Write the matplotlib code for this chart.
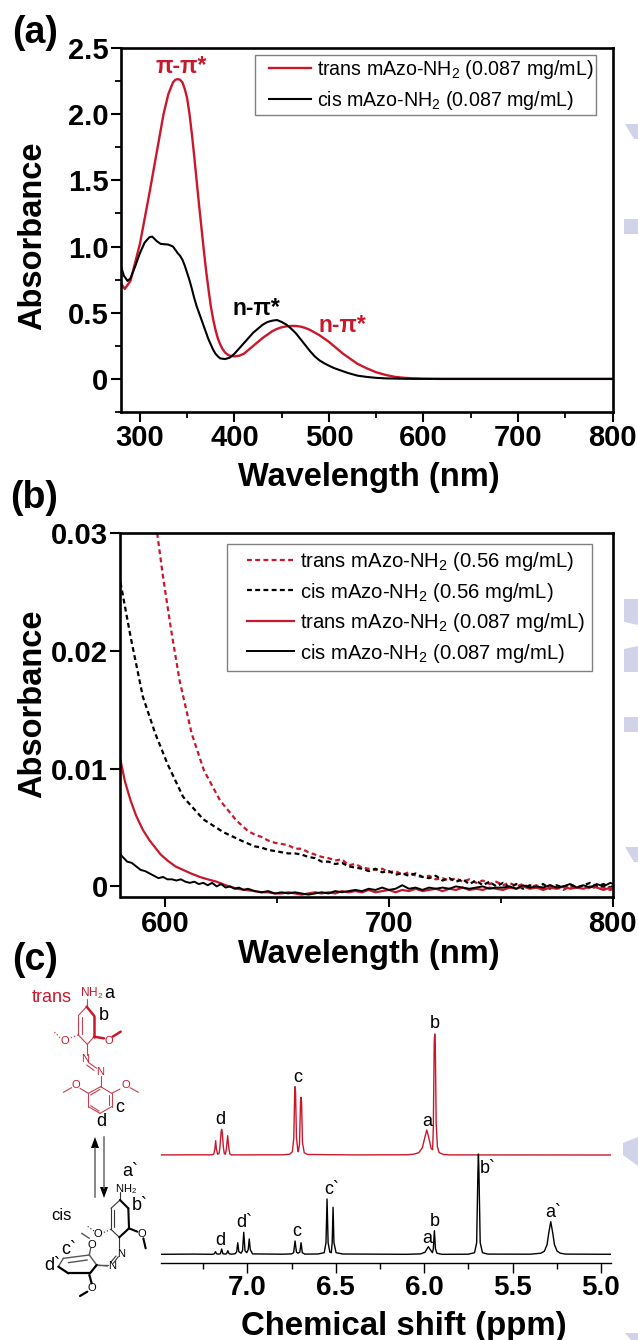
import numpy as np
import matplotlib
matplotlib.use('Agg')
import matplotlib.pyplot as plt
from matplotlib.patches import Polygon
from matplotlib.lines import Line2D
from matplotlib.legend_handler import HandlerLine2D
from matplotlib.ticker import MultipleLocator

plt.rcParams['font.family'] = ['Liberation Sans', 'DejaVu Sans']
plt.rcParams['mathtext.fontset'] = 'custom'
plt.rcParams['mathtext.rm'] = 'Liberation Sans'
plt.rcParams['mathtext.default'] = 'regular'

RED = '#c9182c'
W, H = 638, 1340

# ---------- panel a
wl_a_trans = [280, 284, 290, 300, 310, 320, 325, 330, 335, 337.5, 340, 342.5, 345, 347.5, 350, 352.5, 355, 357.5, 360,
              362.5, 365, 367.5, 370, 372.5, 375, 377.5, 380, 382.5, 385, 387.5, 390, 392.5, 395, 400, 405, 410, 415,
              420, 425, 430, 435, 440, 445, 450, 455, 460, 465, 470, 475, 480, 485, 490, 495, 500, 505, 510, 515, 520,
              525, 530, 540, 550, 560, 570, 580, 590, 600, 620, 800]
abs_a_trans = [0.72, 0.68, 0.74, 1.02, 1.40, 1.80, 2.00, 2.15, 2.24, 2.26, 2.265, 2.26, 2.24, 2.19, 2.12, 2.00, 1.85,
               1.68, 1.50, 1.32, 1.15, 0.98, 0.82, 0.68, 0.55, 0.45, 0.37, 0.305, 0.26, 0.225, 0.20, 0.185, 0.175,
               0.17, 0.175, 0.19, 0.22, 0.25, 0.28, 0.31, 0.335, 0.36, 0.378, 0.39, 0.397, 0.40, 0.40, 0.395, 0.385,
               0.37, 0.35, 0.33, 0.305, 0.28, 0.25, 0.22, 0.19, 0.165, 0.14, 0.115, 0.08, 0.05, 0.03, 0.015, 0.008,
               0.004, 0.002, 0, 0]
wl_a_cis = [280, 283, 287, 290, 295, 300, 305, 310, 313, 318, 322, 330, 335, 340, 342.5, 345, 347.5, 350, 352.5, 355,
            357.5, 360, 362.5, 365, 367.5, 370, 372.5, 375, 377.5, 380, 382.5, 385, 390, 395, 400, 405, 410, 415, 420,
            425, 430, 435, 440, 445, 450, 455, 460, 465, 470, 475, 480, 485, 490, 495, 500, 505, 510, 520, 530, 540,
            550, 560, 580, 600, 800]
abs_a_cis = [0.85, 0.78, 0.74, 0.76, 0.85, 0.95, 1.03, 1.07, 1.075, 1.04, 1.02, 1.015, 1.0, 0.95, 0.93, 0.90, 0.855,
             0.80, 0.745, 0.68, 0.61, 0.55, 0.50, 0.45, 0.40, 0.35, 0.30, 0.26, 0.22, 0.19, 0.17, 0.155, 0.15, 0.16,
             0.19, 0.23, 0.27, 0.31, 0.35, 0.38, 0.41, 0.43, 0.44, 0.445, 0.43, 0.41, 0.38, 0.345, 0.30, 0.255, 0.21,
             0.17, 0.14, 0.118, 0.10, 0.083, 0.07, 0.045, 0.025, 0.015, 0.008, 0.004, 0.001, 0, 0]

# ---------- panel b (tails in 1e-4 absorbance, 3 nm steps from 640 nm)
wl_b_tail = np.arange(640, 803, 3)

wl_b_td = [596.4, 599, 602.7, 606.4, 611.8, 617.3, 624.5, 631.8, 637]
abs_b_td = [0.03, 0.0263, 0.0217, 0.0175, 0.013, 0.00985, 0.0073, 0.0056, 0.0047]
tail_td = [44, 42, 39, 37, 36, 35, 32, 32, 29, 27, 25, 24, 22, 23, 18, 19, 16, 15, 14, 15, 12, 13, 10, 12, 9, 8, 9, 6,
           7, 5, 7, 4, 6, 3, 5, 2, 4, 1, 3, 0, 2, -1, 1, -2, 1, -1, -3, 0, -2, 1, -2, 0, -1, -3, -1]

wl_b_cd = [580, 584.5, 590, 595.5, 601, 608, 617, 626, 635]
abs_b_cd = [0.0258, 0.0212, 0.0161, 0.013, 0.0104, 0.0076, 0.0057, 0.0046, 0.0038]
tail_cd = [34, 33, 31, 30, 29, 28, 28, 27, 25, 24, 21, 21, 19, 20, 17, 16, 15, 13, 15, 12, 13, 10, 11, 9, 11, 8, 7, 9,
           5, 7, 4, 6, 2, 5, 1, 4, 0, 3, -1, 2, -2, 1, -1, 2, -2, 1, -1, 2, -1, 1, 3, 0, 2, -1, 3]

wl_b_ts = [580, 582, 584.5, 587, 590, 593, 595.5, 598, 601, 604.5, 608, 611.5, 615.5, 619, 623, 627, 632]
abs_b_ts = [0.0107, 0.0089, 0.0073, 0.0060, 0.0048, 0.0039, 0.0033, 0.0027, 0.0022, 0.0017, 0.0014, 0.0011, 0.0008,
            0.0006, 0.0004, 0.0001, -0.0002]
tail_ts = [-4, -5, -5, -6, -6, -5, -6, -7, -6, -5, -6, -5, -6, -4, -5, -4, -5, -3, -5, -4, -3, -5, -3, -4, -2, -4, -3,
           -2, -4, -2, -3, -1, -3, -2, -3, -1, -2, -3, -1, -2, 0, -2, -1, -3, -1, -2, 0, -2, -1, -2, 0, -1, -3, -1, -4]

wl_b_cs = [580, 581, 583, 585, 587, 589, 591, 593, 595, 597, 599, 601, 603, 605, 607, 609, 611, 613, 615, 617, 619,
           621, 623, 625, 627, 629, 631, 633, 635, 637]
abs_b_cs = [27, 25, 21, 20, 17, 14, 13, 11, 9, 7, 8, 6, 6, 5, 6, 4, 3, 4, 2, 3, 1, 3, 0, 2, -1, 0, -2, -1, -3, -2]
tail_cs = [-4, -5, -4, -6, -5, -6, -5, -6, -7, -6, -5, -6, -4, -5, -4, -3, -4, -2, -3, -1, -3, -2, 1, -2, -1, -3, -1,
           -2, -1, -2, 0, -1, -2, -1, 0, -2, -1, -1, 0, -2, 1, -1, 0, -1, 1, -1, 0, 2, -1, 1, -1, 2, 0, 3, 1]

# ---------- panel c (intensity = pixels above the axis line)
ppm_trans = [7.488, 7.20, 7.19, 7.183, 7.179, 7.175, 7.168, 7.16, 7.155, 7.148, 7.145, 7.142, 7.135, 7.13, 7.124,
             7.118, 7.111, 7.104, 7.098, 7.09, 6.80, 6.76, 6.745, 6.737, 6.732, 6.73, 6.727, 6.722, 6.714, 6.712,
             6.705, 6.699, 6.696, 6.693, 6.688, 6.678, 6.66, 6.40, 6.10, 6.06, 6.03, 6.01, 5.995, 5.985, 5.975, 5.96,
             5.952, 5.948, 5.943, 5.94, 5.937, 5.932, 5.925, 5.915, 5.89, 5.85, 4.945]
int_trans = [107.8, 107.9, 108.5, 114, 122, 114, 108.5, 109, 115, 131, 133.4, 131, 115, 109, 108.5, 114, 127, 114,
             108.5, 107.8, 107.9, 108.5, 111, 125, 170, 176, 170, 125, 112, 111, 118, 160, 165.4, 160, 120, 110,
             108.2, 107.8, 107.9, 108.5, 110, 115, 126, 132.7, 126, 114, 113, 135, 220, 228.7, 220, 140, 116, 110,
             108.2, 107.8, 107.7]
ppm_cis = [7.488, 7.30, 7.20, 7.187, 7.18, 7.173, 7.16, 7.152, 7.145, 7.138, 7.125, 7.117, 7.11, 7.103, 7.09, 7.068,
           7.06, 7.054, 7.048, 7.035, 7.027, 7.02, 7.013, 7.003, 6.995, 6.989, 6.983, 6.97, 6.80, 6.75, 6.738, 6.73,
           6.722, 6.713, 6.703, 6.696, 6.689, 6.675, 6.60, 6.565, 6.555, 6.549, 6.543, 6.533, 6.525, 6.52, 6.515,
           6.51, 6.498, 6.46, 6.10, 6.02, 5.995, 5.985, 5.976, 5.965, 5.953, 5.948, 5.942, 5.936, 5.928, 5.90, 5.75,
           5.715, 5.703, 5.696, 5.693, 5.69, 5.683, 5.67, 5.64, 5.40, 5.34, 5.32, 5.305, 5.295, 5.284, 5.273, 5.263,
           5.248, 5.23, 5.20, 4.945]
int_cis = [8.4, 8.6, 8.4, 8.8, 11, 8.8, 8.6, 9, 13.7, 9, 8.6, 9, 12, 9, 8.5, 9, 11, 20, 11, 9.5, 12, 30.4, 12, 10,
           13, 23.7, 13, 8.8, 8.5, 8.8, 10, 21.7, 10.5, 9.5, 10.5, 20, 10, 8.6, 8.7, 10, 20, 63.7, 20, 10.5, 10, 20,
           55.4, 20, 10, 8.7, 8.4, 8.8, 10.5, 13.5, 16, 13, 10, 14, 32, 14, 9.5, 8.4, 8.5, 10, 20, 90, 108.7, 90, 20,
           10, 8.6, 8.5, 9.5, 11.5, 18, 30, 41, 30, 18, 11.5, 9.5, 8.6, 8.4]

x_ticks_a = [300, 400, 500, 600, 700, 800]
y_ticks_a = [0, 0.5, 1.0, 1.5, 2.0, 2.5]
y_labels_a = ['0', '0.5', '1.0', '1.5', '2.0', '2.5']
x_ticks_b = [600, 700, 800]
y_ticks_b = [0, 0.01, 0.02, 0.03]
y_labels_b = ['0', '0.01', '0.02', '0.03']
x_ticks_c = [5.0, 5.5, 6.0, 6.5, 7.0]
x_labels_c = ['5.0', '5.5', '6.0', '6.5', '7.0']


def axes_px(left, top, right, bottom, **kw):
    return fig.add_axes([left / W, 1 - bottom / H, (right - left) / W, (bottom - top) / H], **kw)


def style(ax, xt, yt=None, yl=None):
    ax.set_xticks(xt)
    ax.tick_params(axis='both', which='major', length=7, width=1.5, pad=2, labelsize=21)
    ax.tick_params(axis='both', which='minor', length=4, width=1.3)
    for lab in ax.get_xticklabels() + ax.get_yticklabels():
        lab.set_fontweight('bold')
    if yt is not None:
        ax.set_yticks(yt)
        ax.set_yticklabels(yl, fontweight='bold')
    for s in ax.spines.values():
        s.set_linewidth(1.9)
    ax.patch.set_alpha(0)


fig = plt.figure(figsize=(W / 100, H / 100), dpi=100)

# overlay in pixel coordinates: watermark, panel letters, structures
ov = fig.add_axes([0, 0, 1, 1], zorder=0)
ov.set_xlim(0, W)
ov.set_ylim(H, 0)
ov.axis('off')

watermark = [
    [(625, 124), (638, 124), (638, 139), (634, 139)],
    [(624, 219), (638, 219), (638, 234), (624, 234)],
    [(624, 599), (638, 599), (638, 625), (624, 622)],
    [(624, 649), (638, 646), (638, 672), (624, 672)],
    [(624, 717), (638, 717), (638, 732), (624, 732)],
    [(625, 847), (638, 847), (638, 862), (634, 862)],
    [(623, 1143), (638, 1137), (638, 1166), (623, 1155)],
    [(625, 1333), (638, 1333), (638, 1340), (631, 1340)],
]
for pts in watermark:
    ov.add_patch(Polygon(pts, closed=True, fc='#d2d2e8', ec='none'))

for txt, xp, yp in [('(a)', 35, 33), ('(b)', 34, 498), ('(c)', 35, 960)]:
    ov.text(xp, yp, txt, fontsize=27, fontweight='bold', ha='center', va='center')


def bonds(segs, x0, y0, color, lw=0.8, ls='-'):
    for (x1, y1, x2, y2) in segs:
        ov.plot([x0 + x1 / 3, x0 + x2 / 3], [y0 + y1 / 3, y0 + y2 / 3], color=color, lw=lw, ls=ls,
                solid_capstyle='round')


# trans structure
SC = '#c9404f'
bonds([(145, 150, 145, 92), (145, 92, 170, 65), (172, 178, 145, 150), (192, 155, 172, 178), (170, 65, 170, 42),
       (155, 97, 155, 147), (172, 178, 172, 210), (175, 232, 200, 250), (170, 240, 192, 256), (212, 272, 212, 305),
       (212, 305, 245, 325), (245, 325, 245, 365), (245, 365, 210, 385), (210, 385, 175, 365), (175, 365, 175, 325),
       (175, 325, 212, 305), (238, 330, 238, 360), (207, 378, 182, 362), (182, 330, 210, 313), (175, 325, 150, 310),
       (125, 308, 100, 322), (245, 325, 270, 312), (300, 308, 325, 322)], 30, 985, SC)
bonds([(170, 65, 192, 92), (192, 92, 192, 155), (192, 155, 222, 160), (248, 155, 272, 140)], 30, 985, RED, lw=1.8)
bonds([(145, 150, 118, 160), (90, 158, 70, 138)], 30, 985, SC, lw=0.9, ls=':')

# cis structure
bonds([(243, 298, 243, 235), (243, 235, 270, 210), (270, 185, 270, 210), (253, 240, 253, 292), (268, 322, 243, 298),
       (268, 322, 268, 355), (265, 380, 250, 400), (258, 378, 243, 396), (232, 408, 200, 405)], 30, 1130, '#333333')
bonds([(270, 210, 295, 235), (295, 235, 297, 295), (297, 295, 268, 322), (297, 295, 322, 305), (340, 325, 347, 355)],
      30, 1130, 'black', lw=1.5)
bonds([(243, 298, 215, 310), (192, 303, 168, 285)], 30, 1130, '#444444', lw=0.9, ls=':')
bonds([(290, 975, 325, 975), (290, 975, 268, 945), (268, 945, 190, 955), (190, 955, 175, 980), (205, 968, 262, 960),
       (268, 945, 272, 925), (245, 880, 268, 895)], 0, 940, '#555555', lw=1.0)
bonds([(175, 980, 205, 1000), (205, 1000, 270, 1000), (270, 1000, 290, 975), (268, 1005, 275, 1030),
       (262, 1055, 240, 1068)], 0, 940, 'black', lw=1.6)

# arrows between the structures
ov.plot([95, 95], [1197, 1148], color='#666666', lw=1.1)
ov.plot([104, 104], [1137, 1188], color='#666666', lw=1.1)
ov.add_patch(Polygon([(95, 1137), (91, 1148), (99, 1148)], fc='black', ec='none'))
ov.add_patch(Polygon([(104, 1198), (100, 1187), (108, 1187)], fc='black', ec='none'))

for txt, xp, yp, c, fs in [('trans', 52, 997, RED, 13), ('NH$_2$', 92, 993, RED, 8.5), ('a', 109, 993, 'black', 13),
                           ('b', 104, 1015, 'black', 13), ('c', 120, 1108, 'black', 13), ('d', 101, 1122, 'black', 13),
                           ('O', 65, 1041, RED, 8), ('O', 109, 1041, RED, 8), ('N', 85, 1059, RED, 8),
                           ('N', 100, 1072, RED, 8), ('O', 76, 1085, RED, 8), ('O', 126, 1085, RED, 8),
                           ('cis', 61, 1215, 'black', 12), ('NH$_2$', 126, 1189, 'black', 8),
                           ('a`', 130, 1172, 'black', 13), ('b`', 140, 1205, 'black', 13), ('c`', 69, 1250, 'black', 13),
                           ('d`', 52, 1266, 'black', 13), ('O', 98, 1234, 'black', 8), ('O', 142, 1234, 'black', 8),
                           ('O', 92, 1245, 'black', 8), ('N', 121, 1254, 'black', 8), ('N', 112, 1266, 'black', 8),
                           ('O', 92, 1288, 'black', 8)]:
    ov.text(xp, yp, txt, color=c, fontsize=fs, ha='center', va='center')

# ---------- (a)
ax1 = axes_px(121, 48, 612.5, 412, zorder=2)
ax1.plot(wl_a_trans, abs_a_trans, color=RED, lw=1.7, label='trans mAzo-NH$_2$ (0.087 mg/mL)')
ax1.plot(wl_a_cis, abs_a_cis, color='black', lw=1.5, label='cis mAzo-NH$_2$ (0.087 mg/mL)')
ax1.set_xlim(280, 800)
ax1.set_ylim(-0.25, 2.5)
style(ax1, x_ticks_a, y_ticks_a, y_labels_a)
ax1.xaxis.set_minor_locator(MultipleLocator(50))
ax1.yaxis.set_minor_locator(MultipleLocator(0.25))
ax1.set_xlabel('Wavelength (nm)', fontsize=23.5, fontweight='bold', va='center')
ax1.xaxis.set_label_coords(0.504, -0.181)
ax1.set_ylabel('Absorbance', fontsize=23.5, fontweight='bold', va='center')
ax1.yaxis.set_label_coords(-0.179, 0.4835)
leg = ax1.legend(loc='upper left', bbox_to_anchor=((255 - 121) / 491.5, 1 - (55 - 48) / 364), fontsize=14.1,
                 frameon=True, fancybox=False, edgecolor='#808080', framealpha=1, borderaxespad=0, borderpad=0.15,
                 handlelength=2.7, handletextpad=0.3, labelspacing=0.41,
                 handler_map={Line2D: HandlerLine2D(xpad=0.59)})
leg.get_frame().set_linewidth(1.0)
ax1.text(343.8, 2.36, 'π-π*', color=RED, fontsize=16.5, fontweight='bold', ha='center', va='center')
ax1.text(423.5, 0.535, 'n-π*', color='black', fontsize=16.5, fontweight='bold', ha='center', va='center')
ax1.text(514, 0.40, 'n-π*', color=RED, fontsize=16.5, fontweight='bold', ha='center', va='center')

# ---------- (b)
ax2 = axes_px(120.5, 533, 612.5, 897, zorder=2)
td_x = np.concatenate([wl_b_td, wl_b_tail])
td_y = np.concatenate([abs_b_td, np.array(tail_td) * 1e-4])
cd_x = np.concatenate([wl_b_cd, wl_b_tail])
cd_y = np.concatenate([abs_b_cd, np.array(tail_cd) * 1e-4])
ts_x = np.concatenate([wl_b_ts, wl_b_tail])
ts_y = np.concatenate([abs_b_ts, np.array(tail_ts) * 1e-4])
cs_x = np.concatenate([wl_b_cs, wl_b_tail])
cs_y = np.concatenate([abs_b_cs, tail_cs]) * 1e-4
ax2.plot(td_x, td_y, color=RED, lw=1.6, ls=(0, (2.2, 1.5)), label='trans mAzo-NH$_2$ (0.56 mg/mL)')
ax2.plot(cd_x, cd_y, color='black', lw=1.6, ls=(0, (2.2, 1.5)), label='cis mAzo-NH$_2$ (0.56 mg/mL)')
ax2.plot(ts_x, ts_y, color=RED, lw=1.6, label='trans mAzo-NH$_2$ (0.087 mg/mL)')
ax2.plot(cs_x, cs_y, color='black', lw=1.4, label='cis mAzo-NH$_2$ (0.087 mg/mL)')
ax2.set_xlim(580, 800)
ax2.set_ylim(-0.0009, 0.03)
style(ax2, x_ticks_b, y_ticks_b, y_labels_b)
ax2.xaxis.set_minor_locator(MultipleLocator(50))
ax2.set_xlabel('Wavelength (nm)', fontsize=23.5, fontweight='bold', va='center')
ax2.xaxis.set_label_coords(0.504, -0.159)
ax2.set_ylabel('Absorbance', fontsize=23.5, fontweight='bold', va='center')
ax2.yaxis.set_label_coords(-0.178, 0.53)
leg = ax2.legend(loc='upper left', bbox_to_anchor=((227 - 120.5) / 492, 1 - (544 - 533) / 364), fontsize=14.6,
                 frameon=True, fancybox=False, edgecolor='#808080', framealpha=1, borderaxespad=0, borderpad=0.3,
                 handlelength=3.02, handletextpad=0.3, labelspacing=0.37,
                 handler_map={Line2D: HandlerLine2D(xpad=0.7)})
leg.get_frame().set_linewidth(1.0)

# ---------- (c)
ax3 = axes_px(161, 1025, 610.7, 1262.7, zorder=2)
ax3.plot(ppm_trans, int_trans, color=RED, lw=1.0)
ax3.plot(ppm_cis, int_cis, color='black', lw=1.0)
ax3.set_xlim(7.488, 4.945)
ax3.set_ylim(0, 237.7)
ax3.set_yticks([])
for s in ['top', 'left', 'right']:
    ax3.spines[s].set_visible(False)
ax3.set_xticks(x_ticks_c)
ax3.set_xticklabels(x_labels_c, fontweight='bold')
ax3.xaxis.set_minor_locator(MultipleLocator(0.25))
ax3.tick_params(axis='x', which='major', length=7, width=1.0, labelsize=20, pad=2)
ax3.tick_params(axis='x', which='minor', length=4, width=1.0)
ax3.spines['bottom'].set_linewidth(1.0)
ax3.patch.set_alpha(0)
ax3.set_xlabel('Chemical shift (ppm)', fontsize=23.8, fontweight='bold', va='center')
ax3.xaxis.set_label_coords(0.54, (1262.7 - 1326) / 237.7)

peak_labels = ['d', 'c', 'a', 'b', 'd', 'd`', 'c', 'c`', 'a', 'b', 'b`', 'a`']
peak_ppm = [7.15, 6.713, 5.985, 5.938, 7.15, 7.017, 6.72, 6.523, 5.98, 5.938, 5.638, 5.272]
peak_int = [142.7, 185.4, 141, 239, 22, 40, 31, 73.7, 24.4, 41, 94.4, 50]
for lab, p, i in zip(peak_labels, peak_ppm, peak_int):
    ax3.text(p, i, lab, fontsize=13, ha='center', va='center', clip_on=False)

fig.savefig('out.png', dpi=100)
